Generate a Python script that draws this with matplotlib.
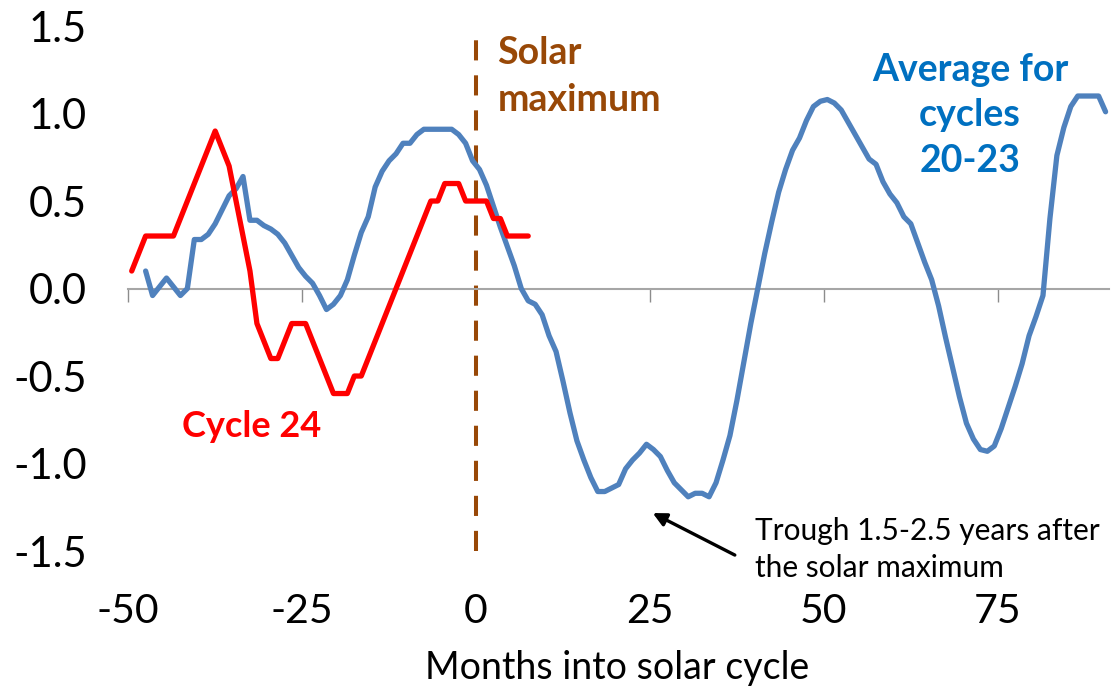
import matplotlib
matplotlib.use("Agg")
import matplotlib.pyplot as plt

plt.rcParams['font.family'] = ['Lato', 'DejaVu Sans']
plt.rcParams['axes.unicode_minus'] = False

# Cycle 24 (monthly, from 50 months before the solar maximum)
cycle24_months = list(range(-50, 8))
cycle24 = [0.1, 0.2, 0.3, 0.3, 0.3, 0.3, 0.3, 0.4, 0.5, 0.6,
           0.7, 0.8, 0.9, 0.8, 0.7, 0.5, 0.3, 0.1, -0.2, -0.3,
           -0.4, -0.4, -0.3, -0.2, -0.2, -0.2, -0.3, -0.4, -0.5, -0.6,
           -0.6, -0.6, -0.5, -0.5, -0.4, -0.3, -0.2, -0.1, 0.0, 0.1,
           0.2, 0.3, 0.4, 0.5, 0.5, 0.6, 0.6, 0.6, 0.5, 0.5,
           0.5, 0.5, 0.4, 0.4, 0.3, 0.3, 0.3, 0.3]

# Average for cycles 20-23
avg_months = list(range(-48, 91))
avg_20_23 = [0.10, -0.04, 0.01, 0.06, 0.01, -0.04, 0.00, 0.28, 0.28, 0.31,
             0.37, 0.45, 0.53, 0.57, 0.64, 0.39, 0.39, 0.36, 0.34, 0.31,
             0.26, 0.19, 0.12, 0.07, 0.03, -0.04, -0.12, -0.09, -0.04, 0.05,
             0.19, 0.32, 0.41, 0.58, 0.67, 0.73, 0.77, 0.83, 0.83, 0.88,
             0.91, 0.91, 0.91, 0.91, 0.91, 0.88, 0.83, 0.73, 0.68, 0.59,
             0.47, 0.35, 0.24, 0.13, 0.00, -0.07, -0.09, -0.15, -0.27, -0.36,
             -0.53, -0.71, -0.87, -0.98, -1.08, -1.16, -1.16, -1.14, -1.12, -1.03,
             -0.98, -0.94, -0.89, -0.92, -0.96, -1.04, -1.11, -1.15, -1.19, -1.17,
             -1.17, -1.19, -1.11, -0.98, -0.84, -0.64, -0.42, -0.20, 0.00, 0.20,
             0.38, 0.55, 0.68, 0.79, 0.86, 0.96, 1.04, 1.07, 1.08, 1.06,
             1.02, 0.95, 0.88, 0.81, 0.74, 0.71, 0.61, 0.54, 0.49, 0.41,
             0.37, 0.26, 0.15, 0.05, -0.10, -0.28, -0.45, -0.62, -0.77, -0.86,
             -0.92, -0.93, -0.90, -0.80, -0.68, -0.56, -0.43, -0.27, -0.16, -0.04,
             0.40, 0.76, 0.92, 1.04, 1.10, 1.10, 1.10, 1.10, 1.01]

x_ticks = [-50, -25, 0, 25, 50, 75]
y_ticks = [-1.5, -1.0, -0.5, 0.0, 0.5, 1.0, 1.5]
solar_max = 0

BLUE = '#4F81BD'
RED = '#FF0000'
BROWN = '#984807'
TEXT_BLUE = '#0070C0'

fig = plt.figure(figsize=(11.18, 6.9), dpi=100)
ax = fig.add_axes([0.1147, 0.2014, 0.8773, 0.7609])

# categories sit between tick marks, like the Excel original
half = 0.5
ax.plot(avg_months, avg_20_23, color=BLUE, lw=3.8,
        solid_capstyle='round', solid_joinstyle='round', zorder=3)
ax.plot(cycle24_months, cycle24, color=RED, lw=3.8,
        solid_capstyle='round', solid_joinstyle='round', zorder=4)
ax.axvline(solar_max - half, color=BROWN, lw=2.9, dashes=(5, 3.7), zorder=2)

ax.set_xlim(-50 - half, 90 + half)
ax.set_ylim(-1.5, 1.5)

for s in ['top', 'right', 'left']:
    ax.spines[s].set_visible(False)
ax.spines['bottom'].set_position(('data', 0))
ax.spines['bottom'].set_color('#A6A6A6')
ax.spines['bottom'].set_linewidth(1.5)
ax.set_xticks([t - half for t in x_ticks])
ax.tick_params(axis='x', direction='out', length=9, width=1,
               color='#8C8C8C', labelbottom=False)

ax.set_yticks(y_ticks)
ax.set_yticklabels(['%.1f' % v for v in y_ticks])
ax.tick_params(axis='y', length=0, pad=30, labelsize=30)

sec = ax.secondary_xaxis('bottom')
sec.spines['bottom'].set_visible(False)
sec.set_xticks([t - half for t in x_ticks])
sec.set_xticklabels([str(t) for t in x_ticks])
sec.tick_params(axis='x', length=0, pad=30, labelsize=29.5)

fig.text(0.552, 1 - 668 / 690, 'Months into solar cycle', fontsize=27,
         ha='center', va='center')

ax.text(2.6, 1.21, 'Solar\nmaximum', color=BROWN, fontsize=27,
        fontweight='bold', ha='left', va='center', linespacing=1.45)
ax.text(70.5, 0.99, 'Average for\ncycles\n20-23', color=TEXT_BLUE,
        fontsize=27, fontweight='bold', ha='center', va='center',
        linespacing=1.42)
ax.text(-32.7, -0.79, 'Cycle 24', color=RED, fontsize=26,
        fontweight='bold', ha='center', va='center')

ax.text(39.6, -1.49, 'Trough 1.5-2.5 years after\nthe solar maximum',
        fontsize=21.5, ha='left', va='center', linespacing=1.4)
ax.annotate('', xy=(24.9, -1.283), xytext=(36.7, -1.523),
            arrowprops=dict(arrowstyle='-|>', color='black', lw=2.4,
                            mutation_scale=20, shrinkA=0, shrinkB=0))

fig.savefig('out.png', dpi=100)
